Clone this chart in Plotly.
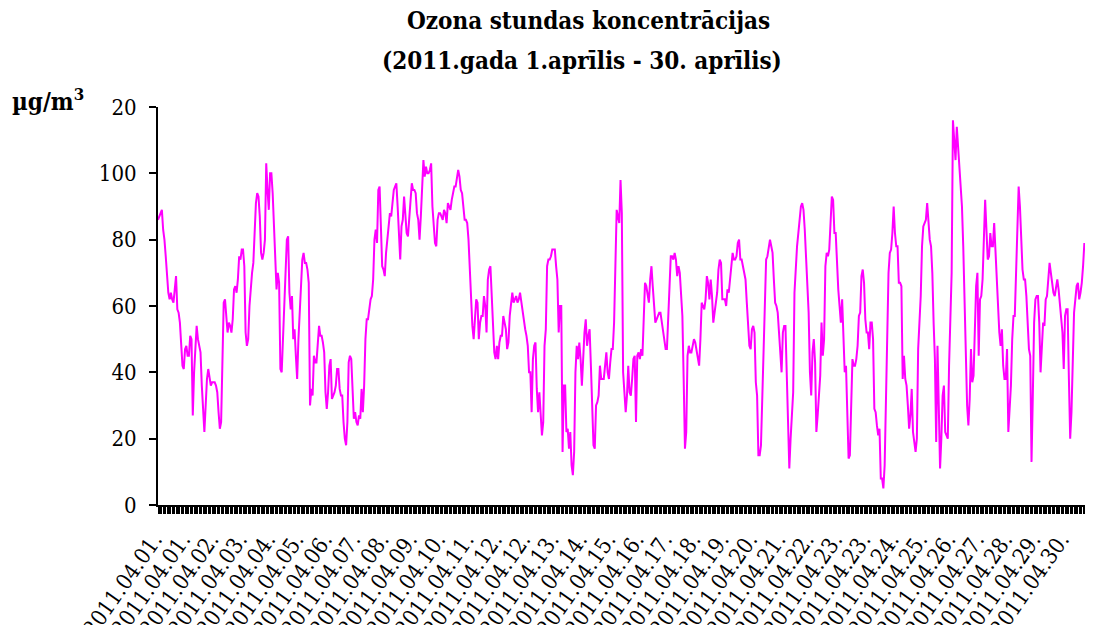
import plotly.graph_objects as go

# Hourly ozone concentrations (µg/m3), one list per day of April 2011
d01 = [86,87,88,89,83,80,75,70,64,62,64,62,61,65,69,59,58,55,48,42,41,47,48,45]
d02 = [45,51,50,27,40,48,54,50,48,46,36,30,22,30,38,41,39,36,37,37,37,36,34,28]
d03 = [23,25,50,61,62,58,52,55,54,52,56,65,66,64,68,75,74,77,77,72,52,48,50,60]
d04 = [66,70,73,82,91,94,93,87,76,74,76,80,103,95,89,100,100,94,83,72,65,70,67,41]
d05 = [40,50,60,73,80,81,64,59,63,50,53,45,38,50,59,70,74,76,73,73,71,67,30,35]
d06 = [33,45,43,43,50,54,51,51,49,46,34,29,34,42,44,32,33,34,36,41,41,35,33,33]
d07 = [25,20,18,25,43,45,44,35,26,28,25,24,27,26,35,28,36,50,56,56,60,62,63,68]
d08 = [80,83,79,95,96,80,72,71,69,76,80,86,88,87,92,95,96,97,90,80,74,84,86,93]
d09 = [88,82,81,87,93,97,95,95,94,88,86,80,87,97,104,99,102,100,100,101,103,90,84,79]
d10 = [78,86,88,88,87,86,89,88,85,91,90,89,92,94,96,96,99,101,99,95,94,89,86,86]
d11 = [85,80,72,60,54,50,58,62,61,50,55,57,57,63,60,52,68,71,72,62,55,46,44,48]
d12 = [44,49,51,51,57,55,53,47,49,57,61,64,61,62,63,61,62,64,61,58,55,53,51,48]
d13 = [40,40,28,44,48,49,35,28,34,26,21,25,48,53,72,74,74,75,77,77,77,72,68,52]
d14 = [60,60,16,36,36,22,23,17,22,12,9,16,40,48,44,49,44,36,46,52,56,48,51,53]
d15 = [42,28,18,17,30,31,33,42,38,38,38,42,46,40,38,43,47,47,55,72,89,87,85,98]
d16 = [88,40,35,28,33,42,34,33,38,44,45,25,45,46,44,47,45,60,67,66,63,61,68,72]
d17 = [66,59,55,56,57,58,58,55,52,50,47,47,56,68,75,75,74,76,74,69,72,70,63,57]
d18 = [38,17,22,45,48,46,46,48,50,49,47,44,42,50,61,60,59,62,69,67,62,68,63,55]
d19 = [58,62,64,71,74,73,62,62,62,60,65,64,68,70,76,74,74,75,79,80,74,74,72,70]
d20 = [68,61,53,48,47,53,54,52,37,33,15,15,18,33,45,65,74,75,77,80,78,76,68,61]
d21 = [60,58,52,46,40,52,54,54,40,28,11,20,27,34,64,72,78,82,87,90,91,89,83,75]
d22 = [68,58,40,33,46,50,43,22,27,33,39,55,45,50,72,76,75,77,88,93,92,82,82,71]
d23 = [65,60,55,62,48,40,42,30,14,15,27,44,42,42,44,48,57,58,69,71,67,56,52,52]
d24 = [47,55,55,50,29,28,24,21,23,8,8,5,12,33,58,70,76,77,82,90,82,78,78,67]
d25 = [67,66,38,45,38,36,30,23,27,35,22,18,16,20,47,55,63,78,84,85,86,91,86,80]
d26 = [78,70,55,44,19,48,30,11,20,33,36,22,21,20,42,60,70,116,108,104,114,108,100,97]
d27 = [90,78,60,45,30,24,32,47,37,39,55,66,70,45,62,63,68,83,92,83,74,75,82,78]
d28 = [78,85,76,68,60,52,48,53,42,38,38,47,22,29,36,50,57,57,72,85,96,90,79,71]
d29 = [68,68,63,55,47,45,13,33,55,62,63,63,55,40,50,55,54,62,63,69,73,70,67,64]
d30 = [63,65,68,65,60,56,52,41,57,59,59,38,20,28,48,58,62,66,67,62,64,67,72,79]

days = [d01, d02, d03, d04, d05, d06, d07, d08, d09, d10,
        d11, d12, d13, d14, d15, d16, d17, d18, d19, d20,
        d21, d22, d23, d24, d25, d26, d27, d28, d29, d30]
ozone = [v for d in days for v in d]
hours = list(range(len(ozone)))

# Category labels shown on the axis (every 22nd hour)
label_positions = list(range(0, 720, 22))
label_texts = ["2011.04.01.", "2011.04.01.", "2011.04.02.", "2011.04.03.", "2011.04.04.",
               "2011.04.05.", "2011.04.06.", "2011.04.07.", "2011.04.08.", "2011.04.09.",
               "2011.04.10.", "2011.04.11.", "2011.04.12.", "2011.04.12.", "2011.04.13.",
               "2011.04.14.", "2011.04.15.", "2011.04.16.", "2011.04.17.", "2011.04.18.",
               "2011.04.19.", "2011.04.20.", "2011.04.21.", "2011.04.22.", "2011.04.23.",
               "2011.04.23.", "2011.04.24.", "2011.04.25.", "2011.04.26.", "2011.04.27.",
               "2011.04.28.", "2011.04.29.", "2011.04.30."]

y_ticks = [0, 20, 40, 60, 80, 100, 120]
y_tick_texts = ["0", "20", "40", "60", "80", "100", "20"]

FONT = "DejaVu Serif Condensed, DejaVu Serif, serif"

# the page body adds an 8 px offset; size the figure so the page does not overflow
OFF = 8
FIG_W, FIG_H = 1093 - 2 * OFF, 633 - 2 * OFF
PLOT_LEFT, PLOT_TOP, PLOT_BOTTOM = 158, 107, 505      # screen pixels
PLOT_RIGHT = OFF + FIG_W                               # screen pixel of right edge
W_PLOT = PLOT_RIGHT - PLOT_LEFT
H_PLOT = PLOT_BOTTOM - PLOT_TOP

def px_x(x):
    return (x - PLOT_LEFT) / W_PLOT

def px_y(y):
    return (PLOT_BOTTOM - y) / H_PLOT

fig = go.Figure()
fig.add_trace(go.Scatter(
    x=hours, y=ozone, mode="lines",
    line=dict(color="#FF00FF", width=2),
    hoverinfo="skip", cliponaxis=False,
))

fig.update_layout(
    width=FIG_W, height=FIG_H,
    margin=dict(l=PLOT_LEFT - OFF, r=0, t=PLOT_TOP - OFF,
                b=FIG_H - (PLOT_BOTTOM - OFF), autoexpand=False),
    paper_bgcolor="white", plot_bgcolor="white",
    showlegend=False,
    font=dict(family=FONT, color="black", size=22),
    xaxis=dict(
        range=[0, 719.5], showgrid=False, zeroline=False, automargin=False,
        showline=True, linecolor="black", linewidth=2,
        tickmode="array", tickvals=label_positions, ticktext=label_texts,
        ticks="outside", ticklen=7, tickwidth=1, tickcolor="black",
        tickangle=-55, tickfont=dict(family=FONT, size=22, color="black"),
        ticklabelstandoff=4, ticklabelshift=-4,
        minor=dict(ticks="outside", dtick=1, tick0=0, ticklen=7, tickwidth=1, tickcolor="black"),
    ),
    yaxis=dict(
        range=[0, 120], showgrid=False, zeroline=False, automargin=False,
        showline=True, linecolor="black", linewidth=2,
        tickmode="array", tickvals=y_ticks, ticktext=y_tick_texts,
        ticks="outside", ticklen=7, tickwidth=2, tickcolor="black",
        tickfont=dict(family=FONT, size=22, color="black"),
        ticklabelstandoff=8,
    ),
    annotations=[
        dict(text="<b>Ozona stundas koncentrācijas</b>", xref="paper", yref="paper",
             x=px_x(588), y=px_y(20), xanchor="center", yanchor="middle",
             showarrow=False, font=dict(family=FONT, size=24, color="black")),
        dict(text="<b>(2011.gada 1.aprīlis - 30. aprīlis)</b>", xref="paper", yref="paper",
             x=px_x(582), y=px_y(60), xanchor="center", yanchor="middle",
             showarrow=False, font=dict(family=FONT, size=24, color="black")),
        dict(text="<b>µg/m<sup>3</sup></b>", xref="paper", yref="paper",
             x=px_x(10), y=px_y(100), xanchor="left", yanchor="middle",
             showarrow=False, font=dict(family=FONT, size=24, color="black")),
    ],
)

fig.write_html("out.html")
